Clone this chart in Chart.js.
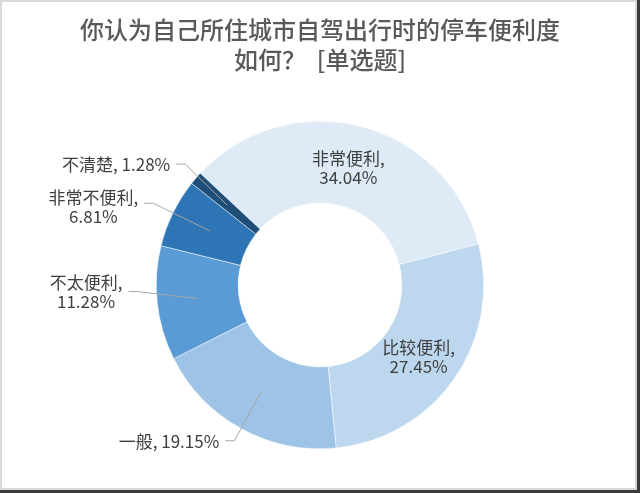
<!DOCTYPE html>
<html>
<head>
<meta charset="utf-8">
<script src="https://cdn.jsdelivr.net/npm/chart.js@4.4.1/dist/chart.umd.min.js"></script>
<style>
  html, body { margin: 0; padding: 0; background: #fff; }
  #wrap { position: relative; width: 640px; height: 493px; }
  #js-chart { position: absolute; left: 0; top: 0; }
  #frame {
    position: absolute; left: 0; top: 0; width: 640px; height: 493px;
    box-sizing: border-box; border-right: 3px solid #3a3a3a; border-bottom: 3px solid #3a3a3a;
    pointer-events: none;
  }
  #frame-inner {
    width: 100%; height: 100%; box-sizing: border-box; border: 2px solid #d9d9d9;
  }
</style>
</head>
<body>
<div id="wrap">
  <canvas id="js-chart" width="640" height="493"></canvas>
  <div id="frame"><div id="frame-inner"></div></div>
</div>
<script>
const titleLines = ["你认为自己所住城市自驾出行时的停车便利度", "如何？  [单选题]"];
const categories = ["非常便利", "比较便利", "一般", "不太便利", "非常不便利", "不清楚"];
const percentages = [34.04, 27.45, 19.15, 11.28, 6.81, 1.28];
const sliceColors = ["#DEEBF7", "#BDD7EE", "#9DC3E6", "#5B9BD5", "#2E75B6", "#1F4E79"];

const fontFamily = '"Noto Sans CJK SC", "Noto Sans", sans-serif';
const labelFont = '17px ' + fontFamily;
const textColor = "#404040";

// how each label is placed: inside the ring or outside with a leader line
// ext = leader length past the ring, dy = nudge of the elbow, ty = nudge of the text block
const labelStyle = [
    {inside: true, wrap: true},
    {inside: true, wrap: true},
    {inside: false, wrap: false, ext: 14, dy: 0, ty: 1},
    {inside: false, wrap: true, ext: 20, dy: -14, ty: 0},
    {inside: false, wrap: true, ext: 22, dy: 0, ty: 4},
    {inside: false, wrap: false, ext: 14, dy: -5, ty: 0}
];

const sliceLabels = {
    id: "sliceLabels",
    afterDatasetsDraw(chart) {
        const ctx = chart.ctx;
        const arcs = chart.getDatasetMeta(0).data;
        ctx.save();
        ctx.font = labelFont;
        ctx.fillStyle = textColor;
        ctx.textBaseline = "middle";
        arcs.forEach((arc, i) => {
            const p = arc.getProps(["x", "y", "startAngle", "endAngle", "innerRadius", "outerRadius"], true);
            const mid = (p.startAngle + p.endAngle) / 2;
            const midR = (p.innerRadius + p.outerRadius) / 2;
            const mx = p.x + Math.cos(mid) * midR;
            const my = p.y + Math.sin(mid) * midR;
            const pct = percentages[i].toFixed(2) + "%";
            const st = labelStyle[i];
            var lines = st.wrap ? [categories[i] + ",", pct] : [categories[i] + ", " + pct];
            const lh = 19;

            if (st.inside) {
                ctx.textAlign = "center";
                lines.forEach((t, k) => {
                    ctx.fillText(t, mx - 2, my + 2 + (k - (lines.length - 1) / 2) * lh);
                });
                return;
            }

            const r2 = p.outerRadius + st.ext;
            const ex = p.x + Math.cos(mid) * r2;
            const ey = p.y + Math.sin(mid) * r2 + st.dy;
            const hx = ex - 9;

            ctx.strokeStyle = "#a6a6a6";
            ctx.lineWidth = 1;
            ctx.beginPath();
            ctx.moveTo(mx, my);
            ctx.lineTo(ex, ey);
            ctx.lineTo(hx, ey);
            ctx.stroke();

            var w = 0;
            lines.forEach((t) => { w = Math.max(w, ctx.measureText(t).width); });
            const right = hx - 6;
            const cx = right - w / 2;
            ctx.textAlign = "center";
            lines.forEach((t, k) => {
                ctx.fillText(t, cx, ey + st.ty + (k - (lines.length - 1) / 2) * lh);
            });
        });
        ctx.restore();
    }
};

const ctx = document.getElementById("js-chart");
const chart = new Chart(ctx, {
    type: "doughnut",
    data: {
        labels: categories,
        datasets: [{
            data: percentages,
            backgroundColor: sliceColors,
            borderColor: "#ffffff",
            borderWidth: 0.5
        }]
    },
    options: {
        responsive: false,
        animation: false,
        rotation: -47,
        cutout: "50%",
        layout: {
            padding: {top: 0, bottom: 44, left: 0, right: 0}
        },
        plugins: {
            legend: {display: false},
            tooltip: {enabled: false},
            title: {
                display: true,
                text: titleLines,
                color: "#595959",
                font: {family: fontFamily, size: 24, weight: "500", lineHeight: "30px"},
                padding: {top: 15, bottom: 46}
            }
        }
    },
    plugins: [sliceLabels]
});
</script>
</body>
</html>
